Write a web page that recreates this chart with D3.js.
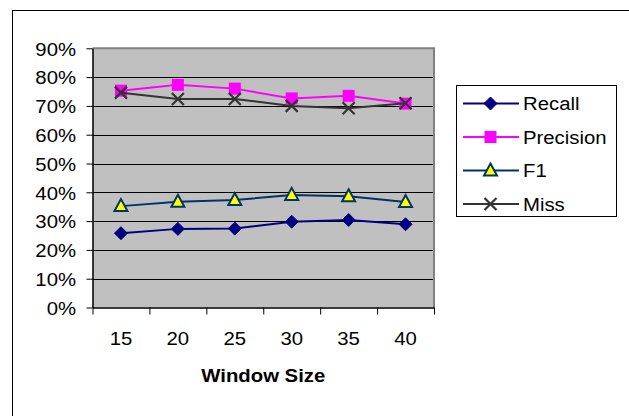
<!DOCTYPE html>
<html><head><meta charset="utf-8">
<script src="https://cdn.jsdelivr.net/npm/d3@7"></script>
<style>
html,body{margin:0;padding:0;background:#fff;}
text{font-family:"Liberation Sans",Arial,sans-serif;fill:#000;}
</style></head>
<body><svg id="chart" width="629" height="416"></svg>
<script>
const categories = ["15","20","25","30","35","40"];
const recall    = [0.258,0.273,0.274,0.298,0.304,0.289];
const precision = [0.753,0.773,0.760,0.726,0.735,0.708];
const f1        = [0.352,0.367,0.373,0.391,0.386,0.366];
const miss      = [0.746,0.724,0.724,0.700,0.692,0.709];
const yTicks    = [0,0.1,0.2,0.3,0.4,0.5,0.6,0.7,0.8,0.9];
const seriesNames = ["Recall","Precision","F1","Miss"];

const SX = 1.13; // horizontal stretch of text in the original
const svg = d3.select("#chart");
const L = 92.5, R = 434, T = 48.3, B = 307.5;

// outer frame
svg.append("rect").attr("x",12.5).attr("y",10.5).attr("width",640).attr("height",420)
  .attr("fill","none").attr("stroke","#000").attr("stroke-width",1);

const x = d3.scaleLinear().domain([0, categories.length]).range([L, R]);
const y = d3.scaleLinear().domain([0, 0.9]).range([B, T]);
const cx = i => x(i + 0.5);

// plot area
svg.append("rect").attr("x",L).attr("y",T).attr("width",R-L).attr("height",B-T).attr("fill","#c0c0c0");
// gridlines
svg.append("g").selectAll("line").data(yTicks.filter(d=>d>0 && d<0.9)).join("line")
  .attr("x1",L).attr("x2",R).attr("y1",d=>Math.round(y(d))+0.5).attr("y2",d=>Math.round(y(d))+0.5)
  .attr("stroke","#000").attr("stroke-width",1);
// top & right gray border
svg.append("path").attr("d",`M${L},${T}H${R}V${B}`).attr("fill","none").attr("stroke","#808080").attr("stroke-width",2);

// y axis
const ya = svg.append("g").attr("transform",`translate(${L},0)`)
  .call(d3.axisLeft(y).tickValues(yTicks).tickFormat(d3.format(".0%")).tickSize(6).tickSizeOuter(0));
ya.select(".domain").attr("stroke","#000").attr("stroke-width",1.5);
ya.selectAll(".tick line").attr("stroke","#000");
ya.selectAll("text").attr("x",-16.5/SX).attr("dy","0.38em").attr("transform",`scale(${SX},1)`)
  .style("font-size","18px").style("font-family","'Liberation Sans',Arial,sans-serif");

// x axis (ticks at category boundaries)
const xa = svg.append("g").attr("transform",`translate(0,${B})`)
  .call(d3.axisBottom(x).tickValues(d3.range(categories.length+1)).tickFormat("").tickSize(7).tickSizeOuter(0));
xa.select(".domain").attr("stroke","#000").attr("stroke-width",1.5);
xa.selectAll(".tick line").attr("stroke","#000");

svg.append("g").selectAll("text").data(categories).join("text")
  .attr("transform",(d,i)=>`translate(${cx(i)},${B+37}) scale(${SX},1)`)
  .attr("text-anchor","middle").style("font-size","18px").text(d=>d);

svg.append("text").attr("transform",`translate(${(L+R)/2},${381.5}) scale(${SX},1)`)
  .attr("text-anchor","middle").style("font-size","18px").style("font-weight","bold").text("Window Size");

// markers
function drawMarker(g, type, px, py) {
  if (type === "diamond") {
    g.append("path").attr("d",`M${px},${py-6.5}L${px+6.5},${py}L${px},${py+6.5}L${px-6.5},${py}Z`)
      .attr("fill","#000080").attr("stroke","#000080").attr("stroke-width",1);
  } else if (type === "square") {
    g.append("rect").attr("x",px-6).attr("y",py-6).attr("width",12).attr("height",12).attr("fill","#ff00ff");
  } else if (type === "triangle") {
    g.append("path").attr("d",`M${px},${py-7}L${px+6.5},${py+5}L${px-6.5},${py+5}Z`)
      .attr("fill","#ffff00").attr("stroke","#003366").attr("stroke-width",2).attr("stroke-linejoin","miter");
  } else if (type === "x") {
    g.append("path").attr("d",`M${px-6},${py-6}L${px+6},${py+6}M${px+6},${py-6}L${px-6},${py+6}`)
      .attr("stroke","#333333").attr("stroke-width",2.2).attr("fill","none");
  }
}

const series = [
  {name:seriesNames[0], vals:recall,    color:"#000080", marker:"diamond"},
  {name:seriesNames[1], vals:precision, color:"#ff00ff", marker:"square"},
  {name:seriesNames[2], vals:f1,        color:"#003366", marker:"triangle"},
  {name:seriesNames[3], vals:miss,      color:"#333333", marker:"x"}
];
const line = d3.line().x((d,i)=>cx(i)).y(d=>y(d));
const drawOrder = [2,0,1,3];
drawOrder.forEach(k => {
  const s = series[k];
  const g = svg.append("g");
  g.append("path").attr("d",line(s.vals)).attr("fill","none").attr("stroke",s.color).attr("stroke-width",2);
  s.vals.forEach((v,i)=>drawMarker(g, s.marker, cx(i), y(v)));
});

// legend
const lg = svg.append("g");
lg.append("rect").attr("x",456.5).attr("y",85.5).attr("width",160).attr("height",131)
  .attr("fill","#fff").attr("stroke","#000").attr("stroke-width",1);
const legY = [103.5,137,170.5,204];
series.forEach((s,k)=>{
  const yy = legY[k];
  lg.append("line").attr("x1",463).attr("x2",519).attr("y1",yy).attr("y2",yy).attr("stroke",s.color).attr("stroke-width",2);
  drawMarker(lg, s.marker, 490.5, yy);
  lg.append("text").attr("transform",`translate(523,${yy+6.5}) scale(${SX},1)`).style("font-size","18px").text(s.name);
});
</script></body></html>
